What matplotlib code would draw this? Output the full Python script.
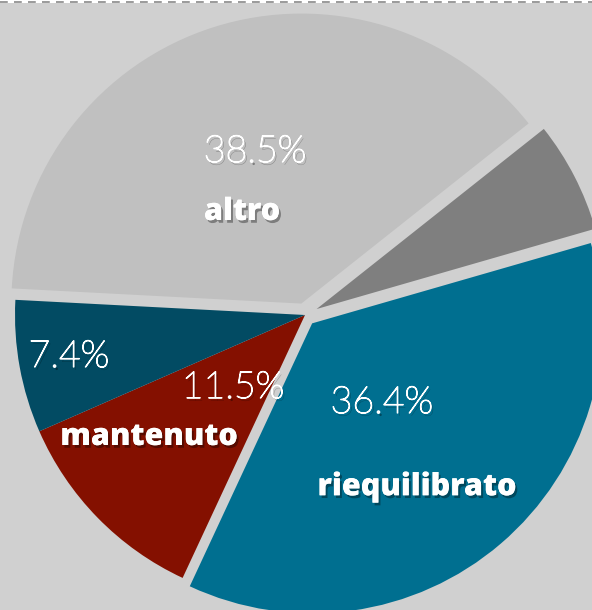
import matplotlib
matplotlib.use("Agg")
import matplotlib.pyplot as plt
import matplotlib.patheffects as pe
from matplotlib.lines import Line2D
from matplotlib.patches import Rectangle

# slice shares in percent, clockwise from the left edge of "altro"
labels = ["altro", "", "riequilibrato", "mantenuto", ""]
shares = [38.5, 6.2, 36.4, 11.5, 7.4]
colors = ["#c0c0c0", "#7f7f7f", "#006f90", "#841000", "#024b63"]
explode = [12, 13, 11, 0, 0]

W, H = 592, 610
fig = plt.figure(figsize=(W / 100, H / 100), dpi=100)
fig.patch.set_facecolor("#d0d0d0")
ax = fig.add_axes([0, 0, 1, 1])

cx, cy, r = 305, H - 315, 290
wedges, _ = ax.pie(shares, colors=colors, explode=explode, startangle=177,
                   counterclock=False, radius=r, center=(cx, cy),
                   wedgeprops=dict(linewidth=0, antialiased=True),
                   frame=True)
ax.set_xlim(0, W)
ax.set_ylim(0, H)
ax.set_aspect("equal")
ax.axis("off")

def shadow(thicken=0.0):
    fx = [pe.withSimplePatchShadow(offset=(1.5, -2), shadow_rgbFace="black", alpha=0.35)]
    if thicken:
        fx.append(pe.Stroke(linewidth=thicken, foreground="white"))
    fx.append(pe.Normal())
    return fx

# percentage labels (light) and category names (heavy)
pct_pos = {0: (255, 152), 2: (382, 403), 3: (233, 388), 4: (69, 357)}
for i, (x, y) in pct_pos.items():
    ax.text(x, H - y, "%.1f%%" % shares[i], color="white", fontsize=27,
            family="Lato", weight="light", ha="center", va="center",
            path_effects=shadow(0.9))

name_pos = {0: (242, 212), 2: (417, 487), 3: (149, 437)}
for i, (x, y) in name_pos.items():
    ax.text(x, H - y, labels[i], color="white", fontsize=22,
            family="Open Sans", weight="heavy", ha="center", va="center",
            path_effects=shadow())

# dashed border along the top edge
fig.add_artist(Rectangle((0, 1 - 3 / H), 1, 3 / H, transform=fig.transFigure,
                         facecolor="white", edgecolor="none"))
fig.add_artist(Line2D([0, 1], [1 - 1.5 / H, 1 - 1.5 / H], transform=fig.transFigure,
                      color="#9a9a9a", linewidth=1.4, linestyle=(0, (4, 3.2))))

fig.savefig("out.png", dpi=100, facecolor=fig.get_facecolor())
